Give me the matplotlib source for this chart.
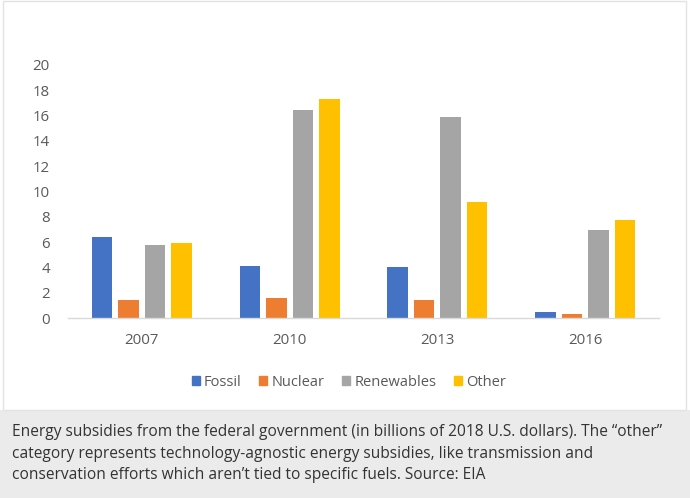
import matplotlib.pyplot as plt
from matplotlib.patches import Patch, Rectangle
import numpy as np

plt.rcParams['font.family'] = ['Open Sans', 'DejaVu Sans']

years = ['2007', '2010', '2013', '2016']
series = ['Fossil', 'Nuclear', 'Renewables', 'Other']
fossil = [6.4, 4.1, 4.0, 0.45]
nuclear = [1.45, 1.55, 1.4, 0.3]
renewables = [5.8, 16.45, 15.9, 6.95]
other = [5.95, 17.3, 9.15, 7.75]
colors = ['#4472C4', '#ED7D31', '#A5A5A5', '#FFC000']

caption = [
    'Energy subsidies from the federal government (in billions of 2018 U.S. dollars). The \u201cother\u201d',
    'category represents technology-agnostic energy subsidies, like transmission and',
    'conservation efforts which aren\u2019t tied to specific fuels. Source: EIA',
]

W, H = 690, 498
fig = plt.figure(figsize=(W / 100, H / 100), dpi=100)
fig.patch.set_facecolor('white')

# caption box and outer frame
fig.patches.append(Rectangle((0, 0), 1, 1 - 410 / H, transform=fig.transFigure,
                             facecolor='#ebebeb', edgecolor='none', zorder=0))
fig.patches.append(Rectangle((2.5 / W, 1 - 410 / H), 683 / W, 409 / H, transform=fig.transFigure,
                             facecolor='none', edgecolor='#e3e3e3', linewidth=1, zorder=1))

ax = fig.add_axes([68 / W, 1 - 318 / H, 591 / W, 253 / H])
x = np.arange(len(years))
pitch = 0.179
width = 0.139
for i, (vals, c) in enumerate(zip([fossil, nuclear, renewables, other], colors)):
    ax.bar(x + (i - 1.5) * pitch, vals, width, color=c, zorder=2)

ax.set_xlim(-0.5, 3.5)
ax.set_ylim(0, 20)
ax.set_yticks(range(0, 21, 2))
ax.set_xticks(x)
ax.set_xticklabels(years)
for s in ['top', 'right', 'left']:
    ax.spines[s].set_visible(False)
ax.spines['bottom'].set_color('#d9d9d9')
ax.spines['bottom'].set_linewidth(1)
ax.tick_params(axis='both', length=0, labelsize=10.8, colors='#595959')
ax.tick_params(axis='y', pad=13)
ax.tick_params(axis='x', pad=11)

handles = [Patch(color=c, label=s) for s, c in zip(series, colors)]
fig.legend(handles=handles, loc='center', bbox_to_anchor=(349 / W, 1 - 382 / H), ncol=4,
           frameon=False, handlelength=0.55, handleheight=0.55, handletextpad=0.3,
           columnspacing=1.2, fontsize=10.5, labelcolor='#595959')

for k, line in enumerate(caption):
    fig.text(12 / W, 1 - (432 + 21.5 * k) / H, line, fontsize=11.2, color='#333333',
             va='center', ha='left')

fig.savefig('out.png', dpi=100)
